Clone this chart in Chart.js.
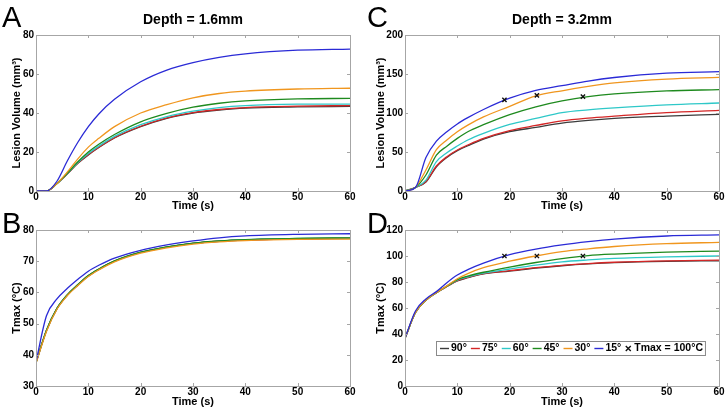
<!DOCTYPE html>
<html lang="en">
<head>
  <meta charset="UTF-8">
  <title>Lesion volume and Tmax vs time</title>
  <script src="https://cdn.jsdelivr.net/npm/chart.js"></script>
  <style>
    body { margin: 0; background: #fff; }
    #wrap { position: relative; width: 728px; height: 412px; overflow: hidden; }
    canvas { position: absolute; }
  </style>
</head>
<body>
  <div id="wrap">
    <canvas id="chartA" width="364" height="216" style="left:0;top:0"></canvas>
    <canvas id="chartC" width="364" height="216" style="left:364px;top:0"></canvas>
    <canvas id="chartB" width="364" height="206" style="left:0;top:206px"></canvas>
    <canvas id="chartD" width="364" height="206" style="left:364px;top:206px"></canvas>
  </div>
  <script>
    const times = [0, 2, 4, 6, 8, 10, 12, 15, 20, 25, 30, 35, 40, 50, 60];
    const angles = ['90°', '75°', '60°', '45°', '30°', '15°'];
    const colors = ['#3c3c3c', '#d42626', '#2ec8c8', '#1e8a1e', '#f0961e', '#2a2ad6'];

    // A: lesion volume, depth 1.6mm
    const volA90 = [0, 0, 3.8, 8.8, 14.2, 18.5, 22.3, 27.2, 33.0, 37.3, 40.0, 41.5, 42.5, 43.1, 43.4];
    const volA75 = [0, 0, 3.8, 8.8, 14.3, 18.7, 22.5, 27.4, 33.2, 37.5, 40.2, 41.8, 42.8, 43.5, 43.8];
    const volA60 = [0, 0, 3.8, 9.0, 14.6, 19.2, 23.0, 28.0, 34.0, 38.2, 41.0, 42.8, 43.8, 44.5, 44.6];
    const volA45 = [0, 0, 3.8, 9.2, 15.0, 20.0, 24.0, 29.0, 35.5, 39.8, 43.0, 45.0, 46.2, 47.2, 47.5];
    const volA30 = [0, 0, 3.8, 9.8, 16.5, 22.5, 27.0, 33.0, 40.0, 44.3, 47.8, 50.0, 51.2, 52.3, 52.7];
    const volA15 = [0, 0, 5.0, 15.5, 25.0, 33.0, 39.5, 47.0, 56.0, 62.0, 65.8, 68.5, 70.3, 72.2, 72.8];

    // B: Tmax, depth 1.6mm
    const tmpB90 = [37.5, 47.8, 54.8, 59.2, 62.4, 65.3, 67.4, 70.0, 72.8, 74.5, 75.7, 76.4, 76.8, 77.2, 77.3];
    const tmpB75 = [37.5, 47.8, 54.8, 59.2, 62.4, 65.3, 67.4, 70.0, 72.8, 74.5, 75.7, 76.4, 76.8, 77.2, 77.4];
    const tmpB60 = [37.5, 47.8, 54.8, 59.2, 62.4, 65.3, 67.4, 70.0, 72.8, 74.5, 75.7, 76.4, 76.9, 77.3, 77.4];
    const tmpB45 = [37.5, 47.9, 54.9, 59.3, 62.5, 65.4, 67.5, 70.1, 72.9, 74.6, 75.8, 76.5, 76.9, 77.3, 77.5];
    const tmpB30 = [37.3, 47.5, 54.6, 59.0, 62.2, 65.1, 67.2, 69.8, 72.6, 74.3, 75.5, 76.2, 76.6, 77.0, 77.1];
    const tmpB15 = [37.8, 52.5, 57.9, 61.3, 64.2, 66.8, 68.7, 71.0, 73.5, 75.2, 76.5, 77.5, 78.1, 78.6, 78.8];

    // C: lesion volume, depth 3.2mm
    const volC90 = [0, 4.5, 11.5, 31.0, 43.0, 51.7, 58.0, 66.5, 76.0, 81.5, 87.0, 90.5, 93.0, 96.0, 98.3];
    const volC75 = [0, 4.5, 12.0, 32.0, 44.0, 52.6, 59.0, 67.5, 77.5, 84.0, 90.0, 93.5, 96.0, 100.5, 103.4];
    const volC60 = [0, 4.5, 14.0, 37.6, 49.0, 57.7, 65.4, 74.0, 85.5, 93.0, 100.5, 104.0, 106.5, 110.5, 112.8];
    const volC45 = [0, 4.5, 20.5, 46.0, 57.5, 67.5, 76.0, 85.0, 98.0, 108.0, 115.5, 121.0, 124.5, 128.3, 130.0];
    const volC30 = [0, 4.5, 27.0, 53.0, 65.5, 76.0, 84.5, 95.0, 108.5, 122.0, 128.5, 134.0, 138.5, 143.5, 145.7];
    const volC15 = [0, 4.5, 43.0, 64.0, 76.0, 86.0, 94.0, 104.5, 119.0, 129.0, 135.0, 141.0, 145.5, 151.0, 153.0];

    // D: Tmax, depth 3.2mm
    const tmpD90 = [36.7, 56.5, 66.0, 71.8, 76.5, 80.8, 83.3, 86.3, 88.4, 90.7, 92.5, 93.9, 94.9, 95.9, 96.3];
    const tmpD75 = [36.7, 56.5, 66.0, 71.8, 76.5, 81.0, 83.5, 86.5, 88.7, 91.0, 92.8, 94.2, 95.2, 96.3, 96.8];
    const tmpD60 = [36.7, 56.5, 66.0, 71.8, 76.7, 81.5, 84.0, 86.8, 90.0, 93.0, 95.5, 97.0, 98.2, 99.4, 100.0];
    const tmpD45 = [36.7, 56.5, 66.0, 71.8, 76.8, 81.8, 84.5, 87.5, 91.5, 95.0, 98.0, 100.3, 101.5, 103.0, 103.8];
    const tmpD30 = [36.7, 56.5, 66.0, 71.8, 77.0, 82.5, 86.5, 91.0, 96.0, 100.0, 103.3, 105.5, 107.3, 109.5, 110.5];
    const tmpD15 = [36.7, 57.7, 67.0, 72.6, 79.5, 85.4, 89.5, 94.5, 101.0, 105.3, 108.5, 111.0, 113.0, 115.4, 116.2];

    // times where Tmax reaches 100°C (15°, 30°, 45°)
    const crossTimes = [19.0, 25.2, 34.0];
    const crossVolC = [116.7, 122.6, 121.0];
    const crossTmpD = [100, 100, 100];

    const FONT = "'Liberation Sans', Arial, sans-serif";

    // MATLAB style box with inward ticks
    const boxPlugin = {
      id: 'matlabBox',
      afterDatasetsDraw(chart) {
        const { ctx, chartArea: a, scales } = chart;
        ctx.save();
        ctx.strokeStyle = '#a6a6a6';
        ctx.lineWidth = 1;
        ctx.strokeRect(Math.round(a.left) + 0.5, Math.round(a.top) + 0.5,
          Math.round(a.right - a.left), Math.round(a.bottom - a.top));
        ctx.beginPath();
        scales.x.ticks.forEach(t => {
          const px = Math.round(scales.x.getPixelForValue(t.value)) + 0.5;
          ctx.moveTo(px, a.bottom); ctx.lineTo(px, a.bottom - 3);
          ctx.moveTo(px, a.top); ctx.lineTo(px, a.top + 3);
        });
        scales.y.ticks.forEach(t => {
          const py = Math.round(scales.y.getPixelForValue(t.value)) + 0.5;
          ctx.moveTo(a.left, py); ctx.lineTo(a.left + 3, py);
          ctx.moveTo(a.right, py); ctx.lineTo(a.right - 3, py);
        });
        ctx.stroke();
        ctx.restore();
      }
    };

    const letterPlugin = {
      id: 'panelLetter',
      afterDraw(chart, args, opts) {
        const ctx = chart.ctx;
        ctx.save();
        ctx.font = '29px ' + FONT;
        ctx.fillStyle = '#000';
        ctx.textBaseline = 'alphabetic';
        ctx.fillText(opts.text, opts.x, 27);
        ctx.restore();
      }
    };

    // legend drawn inside the plot area (panel D)
    const insideLegend = {
      id: 'insideLegend',
      afterDraw(chart, args, opts) {
        if (!opts.show) return;
        const { ctx, chartArea: a } = chart;
        const left = a.left + 31, top = a.top + 111, h = 14;
        ctx.save();
        ctx.font = 'bold 10.5px ' + FONT;
        ctx.textBaseline = 'middle';
        const cy = top + h / 2 + 0.5;
        let x = left + 4;
        const sets = chart.data.datasets;
        const parts = [];
        sets.filter(d => d.showLine !== false).forEach(d => {
          parts.push({ kind: 'line', color: d.borderColor, text: d.label, x });
          x += 11 + ctx.measureText(d.label).width + 4;
        });
        sets.filter(d => d.showLine === false).forEach(d => {
          parts.push({ kind: 'mark', color: d.borderColor, text: d.label, x });
          x += 9 + ctx.measureText(d.label).width + 2;
        });
        ctx.fillStyle = '#fff';
        ctx.fillRect(left, top, x - left, h);
        ctx.strokeStyle = '#8a8a8a';
        ctx.lineWidth = 1;
        ctx.strokeRect(left + 0.5, top + 0.5, x - left, h);
        parts.forEach(p => {
          ctx.strokeStyle = p.color;
          ctx.lineWidth = 1.4;
          ctx.beginPath();
          if (p.kind === 'line') {
            ctx.moveTo(p.x, cy); ctx.lineTo(p.x + 9, cy);
            ctx.stroke();
            ctx.fillStyle = '#000';
            ctx.fillText(p.text, p.x + 11, cy);
          } else {
            ctx.moveTo(p.x + 0.5, cy - 2.5); ctx.lineTo(p.x + 5.5, cy + 2.5);
            ctx.moveTo(p.x + 0.5, cy + 2.5); ctx.lineTo(p.x + 5.5, cy - 2.5);
            ctx.stroke();
            ctx.fillStyle = '#000';
            ctx.fillText(p.text, p.x + 9, cy);
          }
        });
        ctx.restore();
      }
    };

    function toPoints(xs, ys) {
      return xs.map((t, i) => ({ x: t, y: ys[i] }));
    }

    function lineSets(series) {
      return series.map((vals, i) => ({
        label: angles[i],
        data: toPoints(times, vals),
        borderColor: colors[i],
        borderWidth: 1.3,
        pointRadius: 0,
        fill: false,
        cubicInterpolationMode: 'monotone',
        order: 10 - i
      }));
    }

    function markerSet(ys) {
      return {
        label: 'Tmax = 100°C',
        data: toPoints(crossTimes, ys),
        showLine: false,
        pointStyle: 'crossRot',
        pointRadius: 3,
        borderColor: '#111',
        backgroundColor: '#111',
        pointBorderWidth: 1.4,
        order: 0
      };
    }

    function panel(id, c) {
      const tickFont = { family: FONT, size: 10, weight: 'bold' };
      const titleFont = { family: FONT, size: 11, weight: 'bold' };
      return new Chart(document.getElementById(id), {
        type: 'line',
        data: { datasets: c.datasets },
        options: {
          responsive: false,
          animation: false,
          events: [],
          layout: { autoPadding: false, padding: c.padding },
          plugins: {
            legend: { display: false },
            tooltip: { enabled: false },
            title: c.title ? {
              display: true, text: c.title, fullSize: false, color: '#000',
              font: { family: FONT, size: 14, weight: 'bold', lineHeight: 1.2 },
              padding: { top: 12, bottom: 6.2 }
            } : { display: false },
            panelLetter: { text: c.letter, x: c.letterX },
            insideLegend: { show: !!c.legend }
          },
          scales: {
            x: {
              type: 'linear', min: 0, max: 60,
              ticks: { stepSize: 10, font: tickFont, color: '#000', padding: 0, maxRotation: 0 },
              grid: { display: false, drawTicks: false },
              border: { display: false },
              title: { display: true, text: 'Time (s)', color: '#000', font: titleFont, padding: { top: 0, bottom: 3.4 } },
              afterFit: s => { s.height = c.xh; }
            },
            y: {
              type: 'linear', min: c.ymin, max: c.ymax,
              ticks: { stepSize: c.ystep, font: tickFont, color: '#000', padding: 2 },
              grid: { display: false, drawTicks: false },
              border: { display: false },
              title: { display: true, text: c.ytitle, color: '#000', font: titleFont, padding: { top: 10.4, bottom: 0 } },
              afterFit: s => { s.width = c.yw; }
            }
          }
        },
        plugins: [boxPlugin, letterPlugin, insideLegend]
      });
    }

    panel('chartA', {
      datasets: lineSets([volA90, volA75, volA60, volA45, volA30, volA15]),
      title: 'Depth = 1.6mm', letter: 'A', letterX: 2,
      padding: { left: 0, right: 14, top: 0, bottom: 0 },
      xh: 25, yw: 36, ymin: 0, ymax: 80, ystep: 20,
      ytitle: 'Lesion Volume (mm\u00b3)'
    });

    panel('chartC', {
      datasets: lineSets([volC90, volC75, volC60, volC45, volC30, volC15]).concat([markerSet(crossVolC)]),
      title: 'Depth = 3.2mm', letter: 'C', letterX: 3,
      padding: { left: 0, right: 9, top: 0, bottom: 0 },
      xh: 25, yw: 41, ymin: 0, ymax: 200, ystep: 50,
      ytitle: 'Lesion Volume (mm\u00b3)'
    });

    panel('chartB', {
      datasets: lineSets([tmpB90, tmpB75, tmpB60, tmpB45, tmpB30, tmpB15]),
      letter: 'B', letterX: 2,
      padding: { left: 0, right: 14, top: 24, bottom: 0 },
      xh: 26, yw: 36, ymin: 30, ymax: 80, ystep: 10,
      ytitle: 'Tmax (°C)'
    });

    panel('chartD', {
      datasets: lineSets([tmpD90, tmpD75, tmpD60, tmpD45, tmpD30, tmpD15]).concat([markerSet(crossTmpD)]),
      letter: 'D', letterX: 3, legend: true,
      padding: { left: 0, right: 9, top: 24, bottom: 0 },
      xh: 26, yw: 41, ymin: 0, ymax: 120, ystep: 20,
      ytitle: 'Tmax (°C)'
    });
  </script>
</body>
</html>
